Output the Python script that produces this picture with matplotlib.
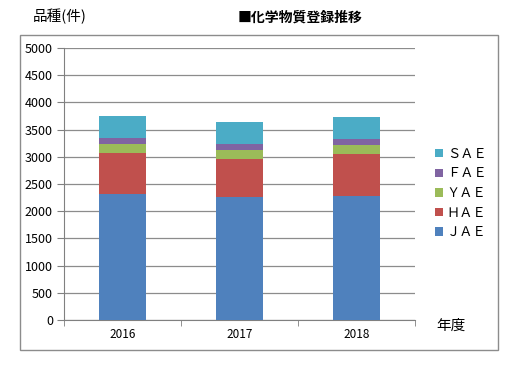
import matplotlib
matplotlib.use("Agg")
import matplotlib.pyplot as plt
from matplotlib.patches import Rectangle
import numpy as np

plt.rcParams['font.family'] = ['Noto Sans CJK JP', 'DejaVu Sans']

years = ['2016', '2017', '2018']
series = ['ＪＡＥ', 'ＨＡＥ', 'ＹＡＥ', 'ＦＡＥ', 'ＳＡＥ']
jae = [2316, 2267, 2279]
hae = [760, 693, 778]
yae = [165, 165, 166]
fae = [110, 116, 110]
sae = [405, 405, 405]
colors = ['#4F81BD', '#C0504D', '#9BBB59', '#8064A2', '#4BACC6']

W, H = 524, 367
fig = plt.figure(figsize=(W / 100, H / 100), dpi=100)

# outer chart border
fig.patches.append(Rectangle((20 / W, (H - 350) / H), 478 / W, 315 / H,
                             transform=fig.transFigure, fill=False,
                             edgecolor='#8c8c8c', linewidth=1.0))

ax = fig.add_axes([64 / W, (H - 320) / H, 351 / W, 272 / H])

x = np.arange(len(years))
bottom = np.zeros(len(years))
handles = []
for name, vals, c in zip(series, [jae, hae, yae, fae, sae], colors):
    b = ax.bar(x, vals, width=0.4, bottom=bottom, color=c, label=name, zorder=3)
    handles.append(b)
    bottom += np.array(vals)

ax.set_xlim(-0.5, 2.5)
ax.set_ylim(0, 5000)
ax.set_yticks(range(0, 5001, 500))
ax.set_xticks(x)
ax.set_xticklabels(years)
ax.set_xticks([-0.5, 0.5, 1.5, 2.5], minor=True)
ax.tick_params(axis='x', which='major', length=0, pad=6, labelsize=8.5)
ax.tick_params(axis='x', which='minor', length=4, color='#808080', direction='out')
ax.tick_params(axis='y', length=5, color='#808080', labelsize=9, pad=3)
ax.yaxis.grid(True, color='#8c8c8c', linewidth=0.9, zorder=0)
for s in ['top', 'right']:
    ax.spines[s].set_visible(False)
for s in ['left', 'bottom']:
    ax.spines[s].set_color('#808080')

fig.text(60 / W, 1 - 16 / H, '品種(件)', fontsize=10.5, ha='center', va='center')
fig.text(300 / W, 1 - 18 / H, '■化学物質登録推移', fontsize=10, fontweight='bold',
         ha='center', va='center')
fig.text(451 / W, 1 - 326 / H, '年度', fontsize=10.5, ha='center', va='center')

leg = fig.legend(handles[::-1], series[::-1], loc='upper left',
                 bbox_to_anchor=(423 / W, 1 - 136 / H), frameon=False,
                 handlelength=0.6, handleheight=0.6, handletextpad=0.3,
                 labelspacing=0.5, fontsize=9.5)

fig.savefig('out.png', dpi=100)
